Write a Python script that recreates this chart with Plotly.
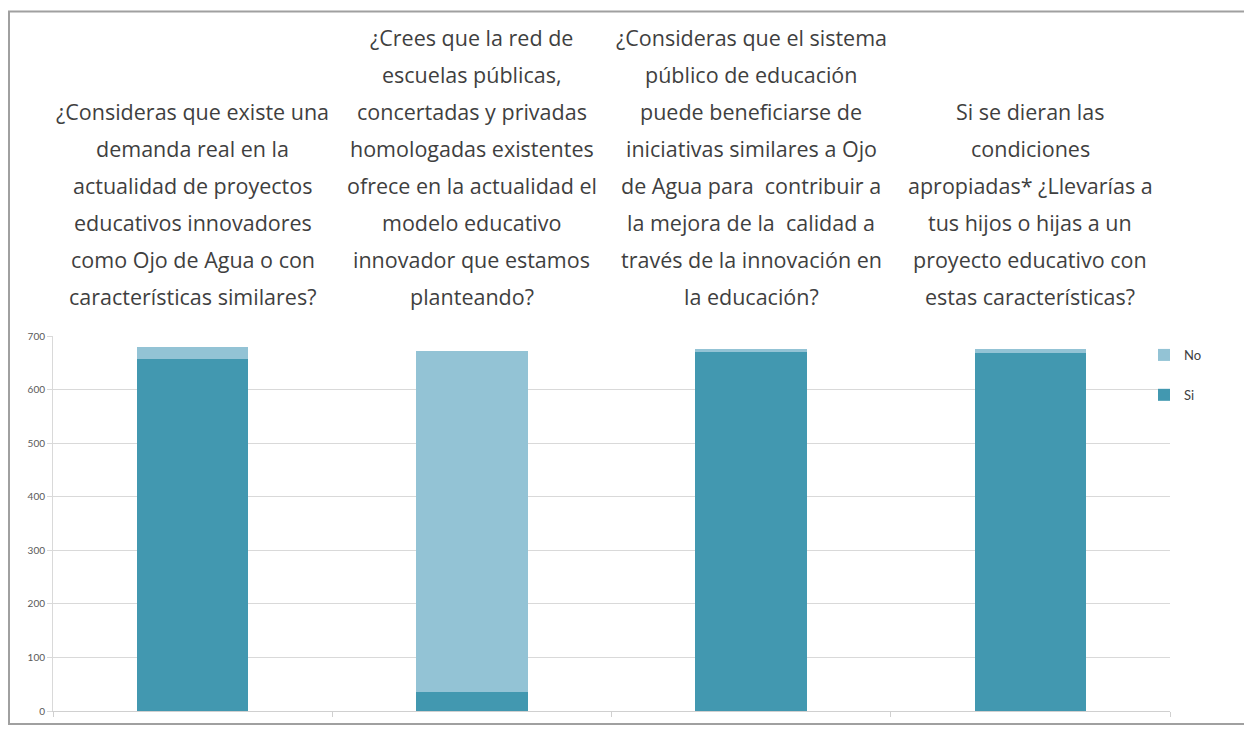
import plotly.graph_objects as go

categories = [
    "¿Consideras que existe una demanda real en la actualidad de proyectos educativos innovadores como Ojo de Agua o con características similares?",
    "¿Crees que la red de escuelas públicas, concertadas y privadas homologadas existentes ofrece en la actualidad el modelo educativo innovador que estamos planteando?",
    "¿Consideras que el sistema público de educación puede beneficiarse de iniciativas similares a Ojo de Agua para  contribuir a la mejora de la  calidad a través de la innovación en la educación?",
    "Si se dieran las condiciones apropiadas* ¿Llevarías a tus hijos o hijas a un proyecto educativo con estas características?",
]
label_lines = [
    ["¿Consideras que existe una", "demanda real en la", "actualidad de proyectos",
     "educativos innovadores", "como Ojo de Agua o con", "características similares?"],
    ["¿Crees que la red de", "escuelas públicas,", "concertadas y privadas",
     "homologadas existentes", "ofrece en la actualidad el", "modelo educativo",
     "innovador que estamos", "planteando?"],
    ["¿Consideras que el sistema", "público de educación", "puede beneficiarse de",
     "iniciativas similares a Ojo", "de Agua para  contribuir a", "la mejora de la  calidad a",
     "través de la innovación en", "la educación?"],
    ["Si se dieran las", "condiciones", "apropiadas* ¿Llevarías a",
     "tus hijos o hijas a un", "proyecto educativo con", "estas características?"],
]
si_values = [657, 35, 670, 669]
no_values = [23, 637, 6, 7]
y_ticks = [0, 100, 200, 300, 400, 500, 600, 700]

SI_COLOR = "#4298B0"
NO_COLOR = "#93C3D5"

fig = go.Figure()
fig.add_trace(go.Bar(x=categories, y=si_values, name="Si", legendrank=2,
                     marker=dict(color=SI_COLOR, line=dict(width=0)), legendgroup="si"))
fig.add_trace(go.Bar(x=categories, y=no_values, name="No", legendrank=1,
                     marker=dict(color=NO_COLOR, line=dict(width=0)), legendgroup="no"))

# page body has an 8px margin; work in reference pixel coords minus 8
OFF = 8
W, H = 1252 - OFF, 729 - OFF
ml = 53 - OFF
mt = 336 - OFF
plot_w = 1170 - 53
plot_h = 714 - 336
mr = W - ml - plot_w
mb = H - mt - plot_h

def py(ref_y):
    return (714 - ref_y) / plot_h

def px(ref_x):
    return (ref_x - 53) / plot_w

annotations = []
line_gap = 37.2
bottom_center = 296
for cat, lines in zip(categories, label_lines):
    n = len(lines)
    for i, line in enumerate(lines):
        k = n - 1 - i
        annotations.append(dict(
            x=cat, xref="x", y=py(bottom_center - line_gap * k), yref="paper",
            text=line, showarrow=False, xanchor="center", yanchor="middle",
            font=dict(family="Open Sans", size=21.5, color="#3f3f3f"),
        ))

fig.update_layout(
    width=W, height=H,
    margin=dict(l=ml, r=mr, t=mt, b=mb),
    paper_bgcolor="white", plot_bgcolor="white",
    barmode="stack", bargap=0.6,
    annotations=annotations,
    showlegend=True,
    legend=dict(
        x=px(1144), xanchor="left", y=py(340), yanchor="top",
        traceorder="grouped", tracegroupgap=20,
        font=dict(family="Lato", size=13, color="#404040"),
        itemwidth=30, bgcolor="rgba(0,0,0,0)",
    ),
    xaxis=dict(
        showticklabels=False, tickson="boundaries", ticks="outside", ticklen=5,
        tickcolor="#d0d0d0", showline=True, linecolor="#d0d0d0", linewidth=1,
        showgrid=False, zeroline=False,
    ),
    yaxis=dict(
        range=[0, 700], tickvals=y_ticks, ticks="outside", ticklen=5, tickcolor="#d9d9d9",
        showgrid=True, gridcolor="#d9d9d9", gridwidth=1,
        showline=True, linecolor="#d9d9d9", zeroline=False,
        tickfont=dict(family="Lato", size=10, color="#595959"),
    ),
    shapes=[dict(
        type="rect", xref="paper", yref="paper",
        x0=px(9), x1=px(1248), y0=py(727), y1=py(9),
        line=dict(color="#a0a0a0", width=2), layer="below",
    )],
)

fig.write_html("out.html")
